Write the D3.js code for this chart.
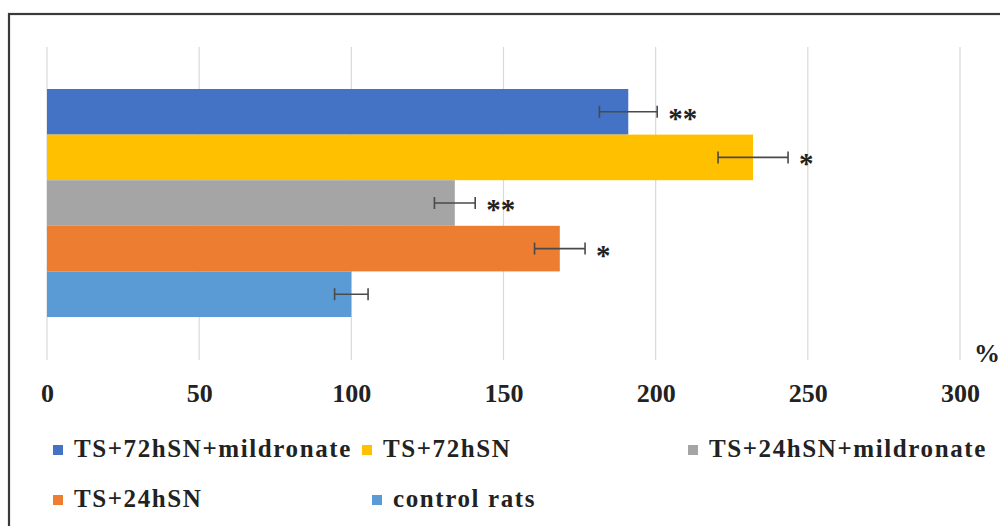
<!DOCTYPE html>
<html>
<head>
<meta charset="utf-8">
<script src="https://cdn.jsdelivr.net/npm/d3@7"></script>
<style>
  html, body { margin: 0; padding: 0; background: #fff; }
  svg { display: block; }
</style>
</head>
<body>
<svg id="chart" width="1000" height="526"></svg>
<script>
// ---- data ----
const categories = ["TS+72hSN+mildronate", "TS+72hSN", "TS+24hSN+mildronate", "TS+24hSN", "control rats"];
const values = [191, 232, 134, 168.5, 100];
const errors = [9.5, 11.5, 6.7, 8.3, 5.5];
const significance = ["**", "*", "**", "*", ""];
const colors = ["#4472C4", "#FFC000", "#A5A5A5", "#ED7D31", "#5B9BD5"];
const tickValues = [0, 50, 100, 150, 200, 250, 300];
const unitLabel = "%";

// ---- layout ----
const svg = d3.select("#chart");
const font = "'Liberation Serif', 'Times New Roman', serif";

// frame
svg.append("rect")
  .attr("x", 9).attr("y", 14)
  .attr("width", 1010).attr("height", 530)
  .attr("fill", "#fff")
  .attr("stroke", "#3a3a3a").attr("stroke-width", 2.2);

const x = d3.scaleLinear().domain([0, 300]).range([47, 960]);
const y = d3.scaleBand().domain(categories).range([89, 317]).padding(0);

const gridTop = 47, gridBottom = 360;

// grid lines
svg.append("g").selectAll("line")
  .data(tickValues)
  .join("line")
  .attr("x1", d => x(d)).attr("x2", d => x(d))
  .attr("y1", gridTop).attr("y2", gridBottom)
  .attr("stroke", "#d9d9d9").attr("stroke-width", 1.2);

// axis labels via d3 axis
const axisG = svg.append("g").attr("transform", `translate(0, ${gridBottom})`)
  .call(d3.axisBottom(x).tickValues(tickValues).tickSize(0).tickPadding(0).tickFormat(d3.format("d")));
axisG.select(".domain").remove();
axisG.selectAll("text")
  .attr("y", 42).attr("dy", null)
  .attr("font-family", font).attr("font-weight", "bold")
  .attr("font-size", 26).attr("fill", "#222");

// bars
const rows = categories.map((c, i) => ({ c, v: values[i], e: errors[i], s: significance[i], col: colors[i] }));

svg.append("g").selectAll("rect")
  .data(rows)
  .join("rect")
  .attr("x", x(0))
  .attr("y", d => y(d.c))
  .attr("width", d => x(d.v) - x(0))
  .attr("height", y.bandwidth())
  .attr("fill", d => d.col);

// error bars
const eb = svg.append("g").attr("stroke", "#4a4a4a").attr("stroke-width", 1.6);
rows.forEach(d => {
  const cy = y(d.c) + y.bandwidth() / 2;
  eb.append("line").attr("x1", x(d.v - d.e)).attr("x2", x(d.v + d.e)).attr("y1", cy).attr("y2", cy);
  eb.append("line").attr("x1", x(d.v - d.e)).attr("x2", x(d.v - d.e)).attr("y1", cy - 6).attr("y2", cy + 6);
  eb.append("line").attr("x1", x(d.v + d.e)).attr("x2", x(d.v + d.e)).attr("y1", cy - 6).attr("y2", cy + 6);
});

// significance stars
svg.append("g").selectAll("text")
  .data(rows.filter(d => d.s))
  .join("text")
  .attr("x", d => x(d.v + d.e) + 11)
  .attr("y", d => y(d.c) + y.bandwidth() / 2 + 16)
  .attr("font-family", font).attr("font-weight", "bold")
  .attr("font-size", 29).attr("fill", "#222")
  .text(d => d.s);

// unit label
svg.append("text")
  .attr("x", 974).attr("y", 362)
  .attr("font-family", font).attr("font-weight", "bold")
  .attr("font-size", 26).attr("fill", "#222")
  .text(unitLabel);

// legend
const legendPos = [
  { mx: 53, ty: 457 }, { mx: 362, ty: 457 }, { mx: 688, ty: 457 },
  { mx: 53, ty: 507 }, { mx: 372, ty: 507 }
];
const lg = svg.append("g");
rows.forEach((d, i) => {
  const p = legendPos[i];
  lg.append("rect")
    .attr("x", p.mx).attr("y", p.ty - 12)
    .attr("width", 10).attr("height", 10)
    .attr("fill", d.col);
  lg.append("text")
    .attr("x", p.mx + 21).attr("y", p.ty)
    .attr("font-family", font).attr("font-weight", "bold")
    .attr("font-size", 25).attr("letter-spacing", 1.6).attr("fill", "#222")
    .text(d.c);
});
</script>
</body>
</html>
